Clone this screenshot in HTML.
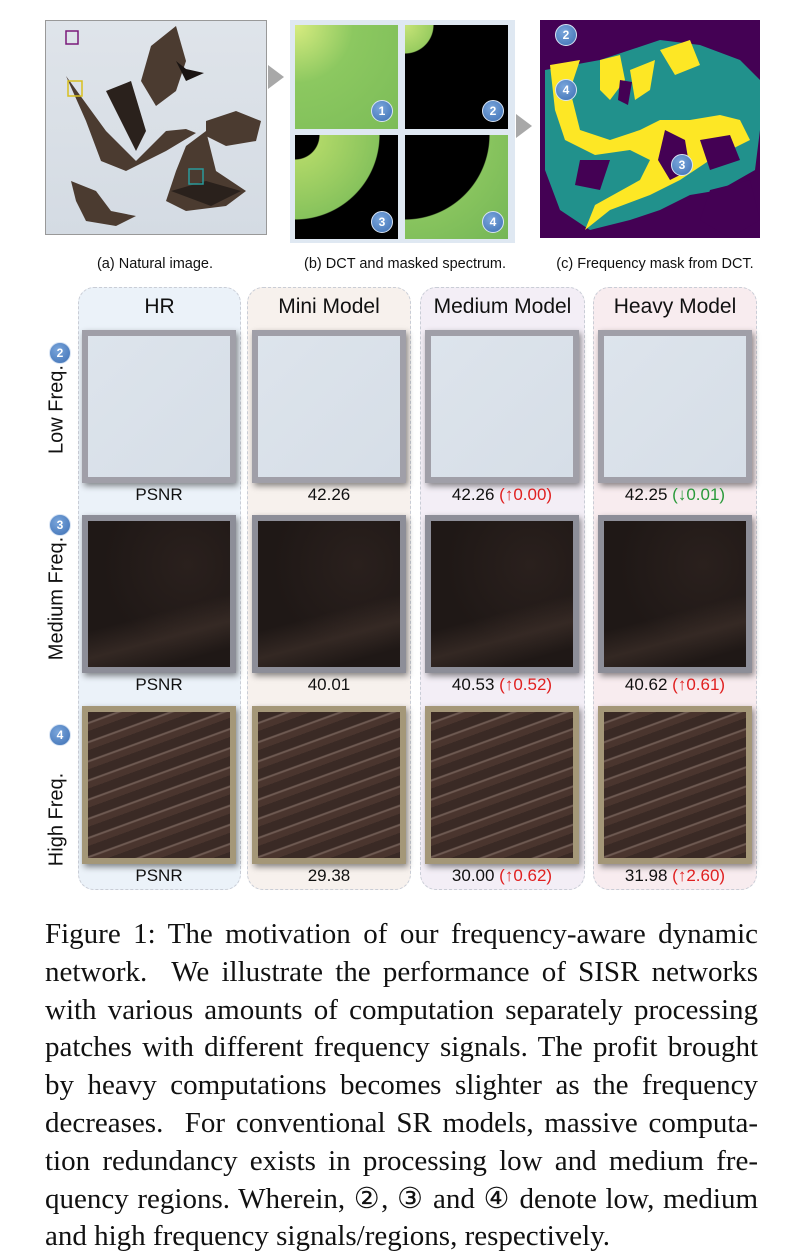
<!DOCTYPE html>
<html><head><meta charset="utf-8">
<style>
html,body{margin:0;padding:0;background:#fff;}
body{width:798px;height:1246px;position:relative;overflow:hidden;font-family:"Liberation Sans","DejaVu Sans",sans-serif;}
.abs{position:absolute;}
.cap{font-size:14.5px;color:#111;text-align:center;}
.num{position:absolute;width:20px;height:20px;border-radius:50%;background:radial-gradient(circle at 40% 35%,#7aa6dc,#3d6fb3);border:1px solid #d8e4f4;color:#fff;font-size:12px;font-weight:bold;text-align:center;line-height:20px;}
.panel{position:absolute;top:287px;height:603px;border:1px dashed #c9cdd6;border-radius:16px;box-sizing:border-box;}
.hdr{position:absolute;top:295px;font-size:21px;color:#111;text-align:center;}
.tile{position:absolute;width:154px;box-sizing:border-box;border:6px solid #9b9aa3;box-shadow:2px 3px 6px rgba(0,0,0,.45);}
.val{position:absolute;font-size:17px;color:#111;text-align:center;width:170px;}
.up{color:#e02020}.dn{color:#2a9a3a}
.rl{position:absolute;font-size:20px;color:#111;transform:rotate(-90deg);transform-origin:center;white-space:nowrap;text-align:center;width:200px;}
.caption{position:absolute;left:45px;width:713px;font-family:"Liberation Serif",serif;font-size:29px;color:#111;}
.caption div{height:37.8px;line-height:37.8px;text-align:justify;text-align-last:justify;white-space:nowrap;}
.caption div.last{text-align-last:left;}
</style></head><body>

<div class="abs" style="left:45px;top:20px;width:220px;height:213px;border:1px solid #999;background:linear-gradient(180deg,#dfe4ea,#d4dbe3);overflow:hidden;">
<svg width="220" height="213" viewBox="0 0 220 213">
<g fill="#4b3b30">
<path d="M20 55 L60 110 L90 140 L110 120 L120 110 L140 108 L150 112 L120 130 L80 150 L55 140 L40 100 Z"/>
<path d="M60 70 L85 60 L100 110 L90 130 Z" fill="#2a211c"/>
<path d="M105 25 L130 5 L140 40 L130 70 L110 85 L95 60 Z"/>
<path d="M130 40 L140 48 L158 52 L140 60 Z" fill="#1a1412"/>
<path d="M160 100 L190 90 L215 100 L210 120 L180 125 L160 115Z"/>
<path d="M140 125 L160 110 L170 150 L200 170 L180 185 L140 190 L120 180 L130 150Z"/>
<path d="M125 170 L160 160 L195 170 L165 185Z" fill="#2a211c"/>
<path d="M25 160 L50 170 L65 190 L90 195 L70 205 L40 200 L30 180Z"/>
</g>
<rect x="20" y="10" width="12" height="13" fill="none" stroke="#7a1a7a" stroke-width="1.5"/>
<rect x="22" y="60" width="14" height="15" fill="none" stroke="#d8c020" stroke-width="1.5"/>
<rect x="143" y="148" width="14" height="15" fill="none" stroke="#2a9a9a" stroke-width="1.5"/>
</svg></div>
<div class="abs" style="left:268px;top:65px;width:0;height:0;border-top:12px solid transparent;border-bottom:12px solid transparent;border-left:16px solid #a8a8a8;"></div>

<div class="abs" style="left:290px;top:20px;width:225px;height:223px;background:#dfe8f2;">
<div class="abs" style="left:5px;top:5px;width:103px;height:104px;background:radial-gradient(circle at 0 0,#d8ec80,#8cc860 40%,#7cbc58);"></div>
<div class="abs" style="left:115px;top:5px;width:103px;height:104px;background:radial-gradient(circle at 0 0,#c8e478 0,#98cc60 28px,#000 29px);"></div>
<div class="abs" style="left:5px;top:115px;width:103px;height:104px;background:radial-gradient(circle at 0 0,#000 24px,#b0d868 25px,#86c25c 84px,#000 85px);"></div>
<div class="abs" style="left:115px;top:115px;width:103px;height:104px;background:radial-gradient(circle at 0 0,#000 84px,#88c45e 85px,#74b656);"></div>
<div class="num" style="left:81px;top:80px">1</div><div class="num" style="left:192px;top:80px">2</div>
<div class="num" style="left:81px;top:191px">3</div><div class="num" style="left:192px;top:191px">4</div>
</div>
<div class="abs" style="left:516px;top:114px;width:0;height:0;border-top:12px solid transparent;border-bottom:12px solid transparent;border-left:16px solid #a8a8a8;"></div>

<div class="abs" style="left:540px;top:20px;width:220px;height:218px;background:#440154;overflow:hidden;">
<svg width="220" height="218" viewBox="0 0 220 218">
<path d="M5 50 L60 40 L90 30 L120 20 L160 25 L200 40 L220 60 L220 110 L215 150 L180 170 L150 175 L120 190 L90 200 L50 210 L20 190 L5 150Z" fill="#21918c"/>
<path d="M10 45 L40 40 L30 70 L40 110 L70 120 L100 110 L120 100 L150 100 L180 95 L200 100 L210 120 L170 140 L140 160 L110 175 L70 190 L45 210 L55 185 L100 160 L110 140 L90 130 L55 135 L25 120 L15 90Z" fill="#fde725"/>
<path d="M60 40 L80 35 L85 60 L70 80 L60 70Z M120 30 L150 20 L160 45 L135 55Z M90 50 L115 40 L110 70 L95 80Z" fill="#fde725"/>
<path d="M125 110 L145 120 L150 150 L130 160 L118 140Z M160 120 L190 115 L200 140 L170 150Z M40 140 L70 140 L60 170 L35 165Z M170 170 L210 160 L220 200 L190 218 L160 200Z M80 60 L92 62 L88 85 L78 80Z" fill="#440154"/>
</svg>
<div class="num" style="left:15px;top:4px">2</div><div class="num" style="left:15px;top:59px">4</div><div class="num" style="left:131px;top:134px">3</div>
</div>

<div class="abs cap" style="left:45px;top:256px;width:220px;">(a) Natural image.</div>
<div class="abs cap" style="left:280px;top:256px;width:250px;">(b) DCT and masked spectrum.</div>
<div class="abs cap" style="left:535px;top:256px;width:240px;">(c) Frequency mask from DCT.</div>

<div class="panel" style="left:78px;width:163px;background:#ebf2f9;"></div>
<div class="panel" style="left:247px;width:164px;background:#f7f1ed;"></div>
<div class="panel" style="left:420px;width:165px;background:#f3eef6;"></div>
<div class="panel" style="left:593px;width:164px;background:#f8ecef;"></div>

<div class="hdr" style="left:78px;width:163px;">HR</div>
<div class="hdr" style="left:247px;width:164px;">Mini Model</div>
<div class="hdr" style="left:420px;width:165px;">Medium Model</div>
<div class="hdr" style="left:593px;width:164px;">Heavy Model</div>

<div class="rl" style="left:-43px;top:398px;">Low Freq.</div>
<div class="num" style="left:49px;top:342px;">2</div>
<div class="rl" style="left:-43px;top:587px;">Medium Freq.</div>
<div class="num" style="left:49px;top:514px;">3</div>
<div class="rl" style="left:-43px;top:808px;">High Freq.</div>
<div class="num" style="left:49px;top:724px;">4</div>

<div id="grid"></div>

<div class="caption" style="top:916px;">
<div>Figure 1: The motivation of our frequency-aware dynamic</div>
<div>network.&nbsp; We illustrate the performance of SISR networks</div>
<div>with various amounts of computation separately processing</div>
<div>patches with different frequency signals. The profit brought</div>
<div>by heavy computations becomes slighter as the frequency</div>
<div>decreases.&nbsp; For conventional SR models, massive computa-</div>
<div>tion redundancy exists in processing low and medium fre-</div>
<div>quency regions. Wherein, ②, ③ and ④ denote low, medium</div>
<div class="last">and high frequency signals/regions, respectively.</div>
</div>

<script>
const columns=["HR","Mini Model","Medium Model","Heavy Model"];
const rows=["low","medium","high"];
const psnrBase=[["PSNR","42.26","42.26","42.25"],["PSNR","40.01","40.53","40.62"],["PSNR","29.38","30.00","31.98"]];
const psnrDelta=[["","","↑0.00","↓0.01"],["","","↑0.52","↑0.61"],["","","↑0.62","↑2.60"]];
const colX=[82,252,425,598];
const rowY=[330,515,706];
const rowH=[153,158,158];
const bgs=[
 "linear-gradient(135deg,#dde4ec,#d6dee7)",
 "linear-gradient(165deg,transparent 60%,rgba(90,70,60,.35) 75%,transparent 90%),radial-gradient(ellipse at 70% 30%,#2a201d,#1f1816 60%),linear-gradient(180deg,#231a17,#3a2c27)",
 "repeating-linear-gradient(160deg,#3a2a25 0 9px,#6e5a52 10px 11px,#4a352e 12px 18px),linear-gradient(180deg,#3b2b26,#5a3f36)"
];
const borders=["#a09fa8","#8d8e98","#a49778"];
const g=document.getElementById('grid');
rows.forEach((r,ri)=>{
 columns.forEach((c,ci)=>{
  const t=document.createElement('div');
  t.className='tile';
  
  
  t.style.left=colX[ci]+'px';t.style.top=rowY[ri]+'px';t.style.height=rowH[ri]+'px';
  t.style.background=bgs[ri];t.style.borderColor=borders[ri];
  g.appendChild(t);
  const v=document.createElement('div');
  v.className='val';
  
  
  v.style.left=(colX[ci]-8)+'px';v.style.top=(rowY[ri]+rowH[ri]+2)+'px';
  let h=psnrBase[ri][ci];
  const d=psnrDelta[ri][ci];
  if(d){h+=' <span class="'+(d[0]==='↓'?'dn':'up')+'">('+d+')</span>';}
  v.innerHTML=h;
  g.appendChild(v);
 });
});
</script>
</body></html>
